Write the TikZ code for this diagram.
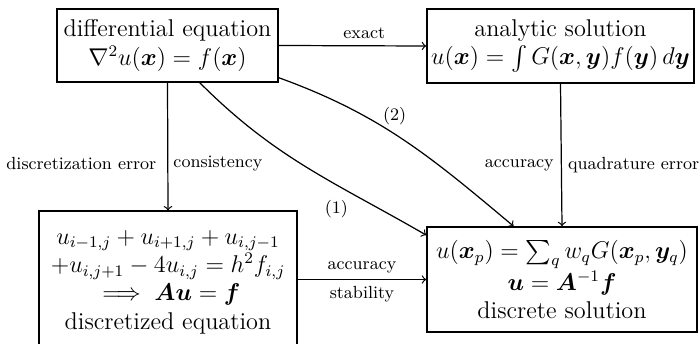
\documentclass[tikz,border=0pt]{standalone}
\usepackage{amsmath}
\usepackage{bm}
\begin{document}
\begin{tikzpicture}[x=0.495pt,y=-0.495pt,
  box/.style={draw,thick,align=center,font=\large,inner xsep=2pt,inner ysep=2pt},
  lab/.style={font=\fontsize{8.7}{10}\selectfont,inner sep=0pt},
  arr/.style={->,semithick}]
\useasboundingbox (0,0) rectangle (700,344);
\node[box,minimum width=109.4pt,minimum height=36.1pt] (A) at (167.5,45.5)
  {differential equation\\ $\nabla^2 u(\bm{x}) = f(\bm{x})$};
\node[box,minimum width=132.2pt,minimum height=36.6pt] (B) at (560.5,46)
  {analytic solution\\ $u(\bm{x}) = \int G(\bm{x},\bm{y}) f(\bm{y})\, d\bm{y}$};
\node[box,minimum width=127.7pt,minimum height=70pt] (C) at (168,282)
  {$u_{i-1,j}+u_{i+1,j}+u_{i,j-1}$\\ $+u_{i,j+1}-4u_{i,j}=h^2 f_{i,j}$\\ $\implies \bm{A}\bm{u}=\bm{f}$\\ discretized equation};
\node[box,minimum width=133.7pt,minimum height=52pt] (D) at (562,279.5)
  {$u(\bm{x}_p)=\sum_q w_q G(\bm{x}_p,\bm{y}_q)$\\ $\bm{u}=\bm{A}^{-1}\bm{f}$\\ discrete solution};
\draw[arr] (A.east) -- node[lab,pos=0.58,above=3pt] {exact} (B.west);
\draw[arr] (A.south) -- node[lab,pos=0.63,left=5.4pt] {discretization error}
  node[lab,pos=0.63,right=2.5pt] {consistency} (C.north);
\draw[arr] (B.south) -- node[lab,pos=0.57,left=3.5pt] {accuracy}
  node[lab,pos=0.57,right=3pt] {quadrature error} (D.north);
\draw[arr] (C.east|-D.west) -- node[lab,above=3pt] {accuracy}
  node[lab,below=3pt] {stability} (D.west);
\draw[arr] ([xshift=16pt]A.south) .. controls +(76,76) and +(-92.7,-53.5) ..
  node[lab,pos=0.65,anchor=north,yshift=-6.5pt,xshift=-1.5pt] {(1)} ([yshift=22pt]D.west);
\draw[arr] ([yshift=2.5pt]A.south east) .. controls +(102,37) and +(-83.5,-70) ..
  node[lab,pos=0.4,anchor=south west,xshift=0.5pt] {(2)} ([xshift=-24pt]D.north);
\end{tikzpicture}
\end{document}
